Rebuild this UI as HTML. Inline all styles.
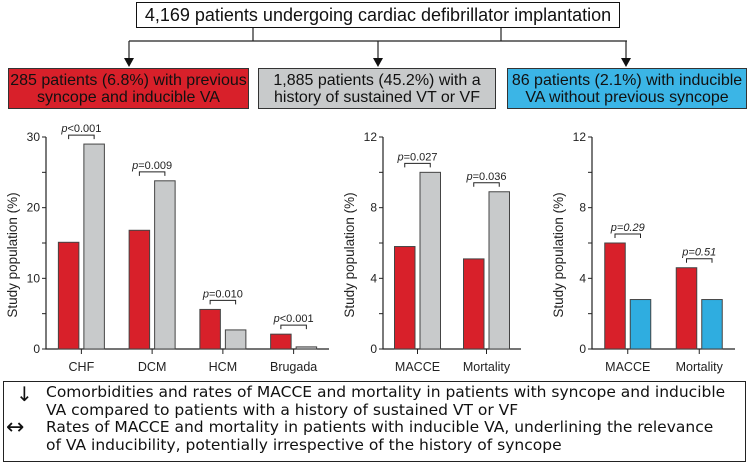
<!DOCTYPE html>
<html><head><meta charset="utf-8">
<style>
html,body{margin:0;padding:0;background:#fff;}
body{width:749px;height:465px;position:relative;overflow:hidden;font-family:"Liberation Sans",sans-serif;}
.box{position:absolute;box-sizing:border-box;border:1.5px solid #333;text-align:center;color:#111;}
svg text{font-family:"Liberation Sans",sans-serif;}
</style></head>
<body>
<div class="box" style="left:136px;top:2px;width:484px;height:26px;font-size:18px;line-height:24px;border-color:#111;">4,169 patients undergoing cardiac defibrillator implantation</div>
<div class="box" style="left:8px;top:68px;width:241px;height:41px;background:#d8202a;font-size:16px;line-height:17px;padding-top:3px;">285 patients (6.8%) with previous<br>syncope and inducible VA</div>
<div class="box" style="left:258px;top:68px;width:238px;height:41px;background:#c8cacb;font-size:16px;line-height:17px;padding-top:3px;">1,885 patients (45.2%) with a<br>history of sustained VT or VF</div>
<div class="box" style="left:507px;top:68px;width:240px;height:41px;background:#3bb5e6;font-size:16px;line-height:17px;padding-top:3px;">86 patients (2.1%) with inducible<br>VA without previous syncope</div>

<svg width="749" height="465" style="position:absolute;left:0;top:0">
<g stroke="#222" stroke-width="1.2" fill="none">
<line x1="253" y1="28" x2="253" y2="41"/><line x1="501" y1="28" x2="501" y2="41"/>
<line x1="129" y1="41" x2="627" y2="41"/>
<line x1="129" y1="41" x2="129" y2="58"/><line x1="378" y1="41" x2="378" y2="58"/><line x1="626" y1="41" x2="626" y2="58"/>
</g>
<g fill="#111"><polygon points="124,58 134,58 129,67"/><polygon points="373,58 383,58 378,67"/><polygon points="621,58 631,58 626,67"/></g>
<g id="charts"></g>
</svg>

<div class="box" style="left:3px;top:381px;width:743px;height:81px;text-align:left;font-family:'DejaVu Sans',sans-serif;font-size:15.5px;line-height:17.5px;padding:2px 0 0 42px;border-color:#222;">
<span style="position:absolute;left:12px;top:4px;font-size:20px;">↓</span>
<span style="position:absolute;left:2px;top:37px;font-size:22px;">↔</span>
Comorbidities and rates of MACCE and mortality in patients with syncope and inducible<br>VA compared to patients with a history of sustained VT or VF<br>Rates of MACCE and mortality in patients with inducible VA, underlining the relevance<br>of VA inducibility, potentially irrespective of the history of syncope
</div>

<script>
const c1Cats=["CHF","DCM","HCM","Brugada"];
const c1Red=[15.1,16.8,5.6,2.1];
const c1Gray=[29,23.8,2.7,0.3];
const c1P=["p<0.001","p=0.009","p=0.010","p<0.001"];
const c1Ticks=[0,10,20,30];
const c2Cats=["MACCE","Mortality"];
const c2Red=[5.8,5.1];
const c2Gray=[10,8.9];
const c2P=["p=0.027","p=0.036"];
const c3Cats=["MACCE","Mortality"];
const c3Red=[6.0,4.6];
const c3Blue=[2.8,2.8];
const c3P=["p=0.29","p=0.51"];
const c23Ticks=[0,4,8,12];

const NS="http://www.w3.org/2000/svg";
const root=document.getElementById("charts");
function mk(tag,attrs,parent){const e=document.createElementNS(NS,tag);for(const k in attrs)e.setAttribute(k,attrs[k]);(parent||root).appendChild(e);return e;}

function chart(cfg){
  const g=mk("g",{});
  
  
  const y0=349,y1=137,max=cfg.ticks[cfg.ticks.length-1];
  const ys=v=>y0-(v/max)*(y0-y1);
  const bw=(cfg.x1-cfg.x0)/cfg.cats.length;
  const ax=mk("path",{d:`M${cfg.x0} ${y1}V${y0}H${cfg.x1}`,stroke:"#222","stroke-width":1.2,fill:"none"},g);
  
  
  const step=(cfg.ticks[1]-cfg.ticks[0])/2;
  for(let v=0;v<=max+1e-9;v+=step){mk("line",{x1:cfg.x0-4,x2:cfg.x0,y1:ys(v),y2:ys(v),stroke:"#222","stroke-width":1},g);}
  cfg.ticks.forEach(t=>{const tx=mk("text",{x:cfg.x0-6,y:ys(t)+4,"font-size":12,"text-anchor":"end",fill:"#222"},g);tx.textContent=t;
    
    });
  const yt=mk("text",{transform:`translate(${cfg.x0-29},${(y0+y1)/2+12}) rotate(-90)`,"font-size":13.5,"text-anchor":"middle",fill:"#222"},g);
  yt.textContent="Study population (%)";
  
  
  cfg.cats.forEach((c,i)=>{
    const cx=cfg.x0+bw*(i+0.5);
    const w=20.5,gap=5;
    const a=cfg.a[i],b=cfg.b[i];
    const r1=mk("rect",{x:cx-gap/2-w,y:ys(a),width:w,height:y0-ys(a),fill:"#d8202a",stroke:"#444","stroke-width":1},g);
    
    
    const r2=mk("rect",{x:cx+gap/2,y:ys(b),width:w,height:y0-ys(b),fill:cfg.col,stroke:"#444","stroke-width":1},g);
    
    
    mk("line",{x1:cx,x2:cx,y1:y0,y2:y0+5,stroke:"#222"},g);
    const lb=mk("text",{x:cx,y:y0+22,"font-size":12.5,"text-anchor":"middle",fill:"#222"},g);lb.textContent=c;
    
    
    const by=ys(Math.max(a,b))-9;
    const l1=cx-gap/2-w/2,l2=cx+gap/2+w/2;
    mk("path",{d:`M${l1} ${by+4}V${by}H${l2}V${by+4}`,stroke:"#222",fill:"none","stroke-width":1},g);
    const p=cfg.p[i];
    const pt=mk("text",{x:(l1+l2)/2,y:by-3,"font-size":11,"text-anchor":"middle",fill:"#222","font-style":cfg.italic?"italic":"normal"},g);
    
    
    const ts=mk("tspan",{"font-style":"italic"},pt);ts.textContent="p";
    const rest=mk("tspan",{},pt);rest.textContent=p.slice(1);
  });
}
chart({name:"comorbidity-chart",x0:46,x1:329,cats:c1Cats,a:c1Red,b:c1Gray,p:c1P,ticks:c1Ticks,col:"#c8cacb"});
chart({name:"outcomes-vt-vf-chart",x0:383,x1:521,cats:c2Cats,a:c2Red,b:c2Gray,p:c2P,ticks:c23Ticks,col:"#c8cacb"});
chart({name:"outcomes-inducible-chart",x0:592,x1:735,cats:c3Cats,a:c3Red,b:c3Blue,p:c3P,ticks:c23Ticks,col:"#2fade0",italic:true});
</script>
</body></html>
